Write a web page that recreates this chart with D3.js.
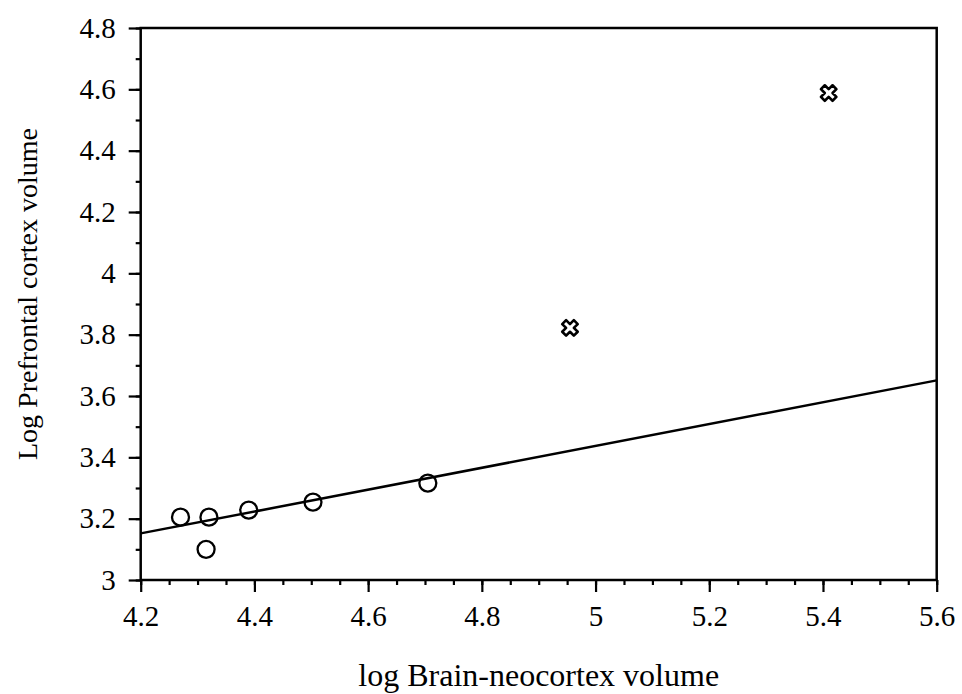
<!DOCTYPE html>
<html>
<head>
<meta charset="utf-8">
<script src="https://cdn.jsdelivr.net/npm/d3@7"></script>
<style>
  html, body { margin: 0; padding: 0; background: #fff; }
  svg { display: block; }
  text { font-family: "Liberation Serif", "Times New Roman", serif; fill: #000; }
</style>
</head>
<body>
<svg id="chart" width="962" height="694"></svg>
<script>
// ---- data ----
const circleX = [4.27, 4.32, 4.315, 4.39, 4.503, 4.705];
const circleY = [3.205, 3.205, 3.10, 3.228, 3.254, 3.316];
const crossX = [4.955, 5.41];
const crossY = [3.822, 4.588];
const lineX = [4.2, 5.6];
const lineY = [3.152, 3.651];
const xTicks = [4.2, 4.4, 4.6, 4.8, 5, 5.2, 5.4, 5.6];
const yTicks = [3, 3.2, 3.4, 3.6, 3.8, 4, 4.2, 4.4, 4.6, 4.8];
const xTitle = "log Brain-neocortex volume";
const yTitle = "Log Prefrontal cortex volume";

// ---- layout ----
const svg = d3.select("#chart");
const L = 140.7, R = 936.7, T = 28, B = 580;
const x = d3.scaleLinear().domain([4.2, 5.6]).range([L, R]);
const y = d3.scaleLinear().domain([3, 4.8]).range([B, T]);

// minor ticks
const xMinor = d3.range(0, 29).map(i => +(4.2 + i * 0.05).toFixed(2));
const yMinor = d3.range(0, 19).map(i => +(3 + i * 0.1).toFixed(1));
const fmt = d => String(+d.toFixed(1));

const gx = svg.append("g").attr("transform", `translate(0,${B})`);
gx.call(d3.axisBottom(x).tickValues(xMinor).tickSize(5).tickFormat(""));
gx.select(".domain").remove();
const gx2 = svg.append("g").attr("transform", `translate(0,${B})`);
gx2.call(d3.axisBottom(x).tickValues(xTicks).tickSize(12).tickPadding(13).tickFormat(fmt));
gx2.select(".domain").remove();
gx2.selectAll("text").attr("font-size", 29).attr("font-family", "Liberation Serif");

const gy = svg.append("g").attr("transform", `translate(${L},0)`);
gy.call(d3.axisLeft(y).tickValues(yMinor).tickSize(5).tickFormat(""));
gy.select(".domain").remove();
const gy2 = svg.append("g").attr("transform", `translate(${L},0)`);
gy2.call(d3.axisLeft(y).tickValues(yTicks).tickSize(12).tickPadding(13).tickFormat(fmt));
gy2.select(".domain").remove();
gy2.selectAll("text").attr("font-size", 29).attr("font-family", "Liberation Serif");
svg.selectAll(".tick line").attr("stroke", "#000").attr("stroke-width", 2.2);

// frame
svg.append("rect").attr("x", L).attr("y", T).attr("width", R - L).attr("height", B - T)
  .attr("fill", "none").attr("stroke", "#000").attr("stroke-width", 2.5);

// regression line
svg.append("line")
  .attr("x1", x(lineX[0])).attr("y1", y(lineY[0]))
  .attr("x2", x(lineX[1])).attr("y2", y(lineY[1]))
  .attr("stroke", "#000").attr("stroke-width", 2.5);

// circles
svg.append("g").selectAll("circle").data(circleX.map((v, i) => [v, circleY[i]])).join("circle")
  .attr("cx", d => x(d[0])).attr("cy", d => y(d[1])).attr("r", 8.5)
  .attr("fill", "none").attr("stroke", "#000").attr("stroke-width", 2.3);

// crosses
const sym = d3.symbol().type(d3.symbolCross).size(150);
svg.append("g").selectAll("path").data(crossX.map((v, i) => [v, crossY[i]])).join("path")
  .attr("d", sym)
  .attr("transform", d => `translate(${x(d[0])},${y(d[1])}) rotate(45)`)
  .attr("fill", "#fff").attr("stroke", "#000").attr("stroke-width", 2.6).attr("stroke-linejoin", "round");

// titles
svg.append("text").attr("x", (L + R) / 2).attr("y", 686).attr("text-anchor", "middle")
  .attr("font-size", 32).text(xTitle);
svg.append("text").attr("transform", `translate(37,${(T + B) / 2 - 10}) rotate(-90)`)
  .attr("text-anchor", "middle").attr("font-size", 28).text(yTitle);
</script>
</body>
</html>
